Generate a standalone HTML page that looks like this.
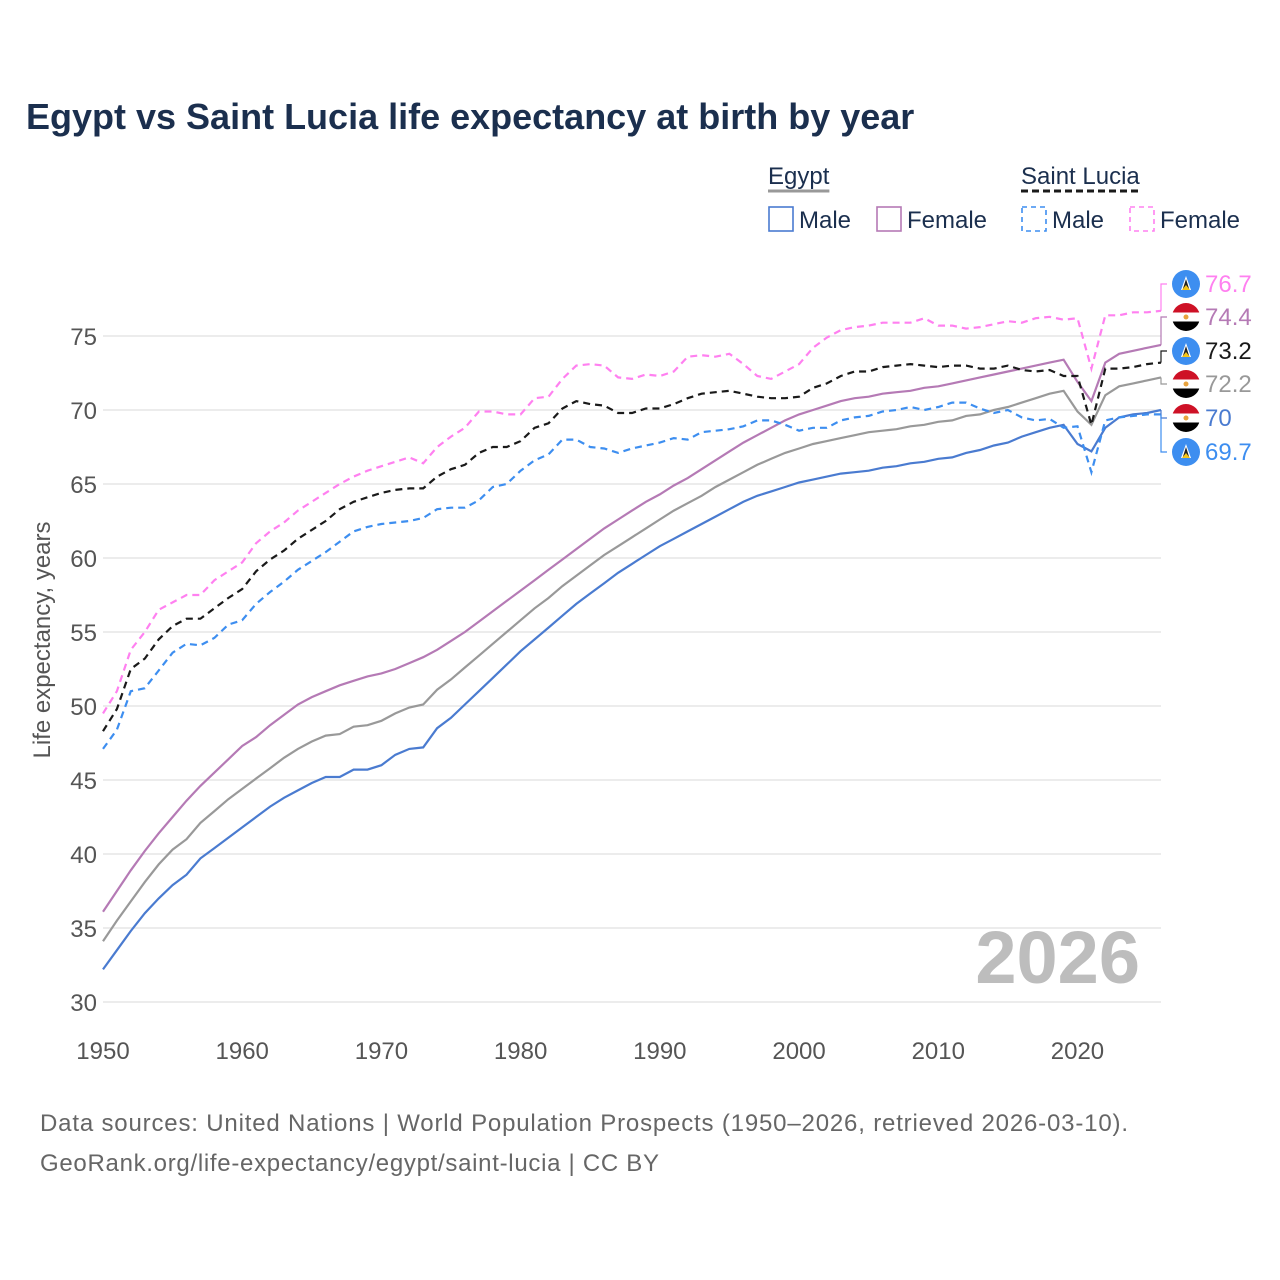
<!DOCTYPE html>
<html><head><meta charset="utf-8">
<style>
body{margin:0;background:#fff;font-family:"Liberation Sans",sans-serif;}
#wrap{position:relative;width:1280px;height:1280px;overflow:hidden;}
</style></head>
<body>
<div id="wrap">
<svg id="chart" width="1280" height="1280" style="font-family:'Liberation Sans',sans-serif"></svg>
</div>
<script>
const years=[];for(let y=1950;y<=2026;y++)years.push(y);
const egyptMale=[32.2,33.5,34.8,36.0,37.0,37.9,38.6,39.7,40.4,41.1,
41.8,42.5,43.2,43.8,44.3,44.8,45.2,45.2,45.7,45.7,
46.0,46.7,47.1,47.2,48.5,49.2,50.1,51.0,51.9,52.8,
53.7,54.5,55.3,56.1,56.9,57.6,58.3,59.0,59.6,60.2,
60.8,61.3,61.8,62.3,62.8,63.3,63.8,64.2,64.5,64.8,
65.1,65.3,65.5,65.7,65.8,65.9,66.1,66.2,66.4,66.5,
66.7,66.8,67.1,67.3,67.6,67.8,68.2,68.5,68.8,69.0,
67.7,67.2,68.8,69.5,69.7,69.8,70.0];
const egyptFemale=[36.1,37.5,38.9,40.2,41.4,42.5,43.6,44.6,45.5,46.4,
47.3,47.9,48.7,49.4,50.1,50.6,51.0,51.4,51.7,52.0,
52.2,52.5,52.9,53.3,53.8,54.4,55.0,55.7,56.4,57.1,
57.8,58.5,59.2,59.9,60.6,61.3,62.0,62.6,63.2,63.8,
64.3,64.9,65.4,66.0,66.6,67.2,67.8,68.3,68.8,69.3,
69.7,70.0,70.3,70.6,70.8,70.9,71.1,71.2,71.3,71.5,
71.6,71.8,72.0,72.2,72.4,72.6,72.8,73.0,73.2,73.4,
71.9,70.6,73.2,73.8,74.0,74.2,74.4];
const egyptTotal=[34.1,35.5,36.8,38.1,39.3,40.3,41.0,42.1,42.9,43.7,
44.4,45.1,45.8,46.5,47.1,47.6,48.0,48.1,48.6,48.7,
49.0,49.5,49.9,50.1,51.1,51.8,52.6,53.4,54.2,55.0,
55.8,56.6,57.3,58.1,58.8,59.5,60.2,60.8,61.4,62.0,
62.6,63.2,63.7,64.2,64.8,65.3,65.8,66.3,66.7,67.1,
67.4,67.7,67.9,68.1,68.3,68.5,68.6,68.7,68.9,69.0,
69.2,69.3,69.6,69.7,70.0,70.2,70.5,70.8,71.1,71.3,
69.9,69.0,71.0,71.6,71.8,72.0,72.2];
const luciaMale=[47.1,48.4,51.0,51.2,52.4,53.6,54.2,54.1,54.6,55.5,
55.8,56.9,57.7,58.4,59.2,59.8,60.4,61.1,61.8,62.1,
62.3,62.4,62.5,62.7,63.3,63.4,63.4,63.9,64.8,65.0,
65.9,66.6,67.0,68.0,68.0,67.5,67.4,67.1,67.4,67.6,
67.8,68.1,68.0,68.5,68.6,68.7,68.9,69.3,69.3,69.0,
68.6,68.8,68.8,69.3,69.5,69.6,69.9,70.0,70.2,70.0,
70.2,70.5,70.5,70.1,69.8,70.0,69.5,69.3,69.4,68.8,
68.9,65.8,69.3,69.5,69.6,69.7,69.7];
const luciaFemale=[49.5,51.0,53.8,55.0,56.5,57.0,57.5,57.5,58.5,59.1,
59.7,61.0,61.8,62.4,63.2,63.8,64.4,65.0,65.5,65.9,
66.2,66.5,66.8,66.4,67.5,68.2,68.8,69.9,69.9,69.7,
69.7,70.8,70.9,72.1,73.0,73.1,73.0,72.2,72.1,72.4,
72.3,72.6,73.6,73.7,73.6,73.8,73.1,72.3,72.1,72.6,
73.1,74.2,74.9,75.4,75.6,75.7,75.9,75.9,75.9,76.2,
75.7,75.7,75.5,75.6,75.8,76.0,75.9,76.2,76.3,76.1,
76.2,72.8,76.4,76.4,76.6,76.6,76.7];
const luciaTotal=[48.3,49.8,52.5,53.2,54.5,55.4,55.9,55.9,56.6,57.3,
57.9,59.1,59.9,60.5,61.3,61.9,62.5,63.3,63.8,64.1,
64.4,64.6,64.7,64.7,65.5,66.0,66.3,67.1,67.5,67.5,
67.9,68.8,69.1,70.1,70.6,70.4,70.3,69.8,69.8,70.1,
70.1,70.4,70.8,71.1,71.2,71.3,71.1,70.9,70.8,70.8,
70.9,71.5,71.8,72.3,72.6,72.6,72.9,73.0,73.1,73.0,
72.9,73.0,73.0,72.8,72.8,73.0,72.7,72.6,72.7,72.3,
72.3,69.0,72.8,72.8,72.9,73.1,73.2];
const yTicks=[30,35,40,45,50,55,60,65,70,75];
const xTicks=[1950,1960,1970,1980,1990,2000,2010,2020];

const NS="http://www.w3.org/2000/svg";
const svg=document.getElementById('chart');
const X0=103,X1=1161;
function xs(y){return X0+(y-1950)*(X1-X0)/76;}
function ys(v){return 1002-(v-30)*14.8;}
function mk(tag,attrs,parent){const e=document.createElementNS(NS,tag);for(const k in attrs)e.setAttribute(k,attrs[k]);(parent||svg).appendChild(e);return e;}

let t=mk('text',{x:26,y:129,'font-size':36,'font-weight':'bold',fill:'#1b2f4e'});
t.textContent='Egypt vs Saint Lucia life expectancy at birth by year';



yTicks.forEach(v=>{
 const l=mk('line',{x1:X0,x2:X1,y1:ys(v),y2:ys(v),stroke:'#e6e6e6','stroke-width':1.5});
 
 
 const tx=mk('text',{x:97,y:ys(v)+9,'font-size':24,'text-anchor':'end',fill:'#555'});
 tx.textContent=v;
 
 
});
xTicks.forEach(v=>{
 const tx=mk('text',{x:xs(v),y:1059,'font-size':24,'text-anchor':'middle',fill:'#555'});
 tx.textContent=v;
 
 
});
t=mk('text',{x:0,y:0,'font-size':24,fill:'#555','text-anchor':'middle',transform:'translate(50,640) rotate(-90)'});
t.textContent='Life expectancy, years';



t=mk('text',{x:1140,y:983,'font-size':74,'font-weight':'bold',fill:'#bdbdbd','text-anchor':'end'});
t.textContent='2026';



const series=[
 {d:egyptMale,c:'#4a7bd0',dash:null,n:'egypt-male-line'},
 {d:egyptTotal,c:'#999999',dash:null,n:'egypt-total-line'},
 {d:egyptFemale,c:'#b57ab5',dash:null,n:'egypt-female-line'},
 {d:luciaMale,c:'#3d8ef0',dash:'7,5',n:'saint-lucia-male-line'},
 {d:luciaTotal,c:'#1a1a1a',dash:'7,5',n:'saint-lucia-total-line'},
 {d:luciaFemale,c:'#ff80f0',dash:'7,5',n:'saint-lucia-female-line'}
];
series.forEach(s=>{
 const pts=s.d.map((v,i)=>xs(years[i]).toFixed(1)+','+ys(v).toFixed(1)).join(' ');
 const a={points:pts,fill:'none',stroke:s.c,'stroke-width':2.2};
 if(s.dash)a['stroke-dasharray']=s.dash;
 const p=mk('polyline',a);
 
 
});

const ends=[
 {d:luciaFemale,c:'#ff80f0',flag:'lc',ly:284},
 {d:egyptFemale,c:'#b57ab5',flag:'eg',ly:317},
 {d:luciaTotal,c:'#1a1a1a',flag:'lc',ly:351},
 {d:egyptTotal,c:'#999999',flag:'eg',ly:384},
 {d:egyptMale,c:'#4a7bd0',flag:'eg',ly:418},
 {d:luciaMale,c:'#3d8ef0',flag:'lc',ly:452}
];
ends.forEach(e=>{
 const v=e.d[e.d.length-1];const yy=ys(v);
 const c=mk('polyline',{points:`${X1},${yy} ${X1},${e.ly} ${X1+6},${e.ly}`,fill:'none',stroke:e.c,'stroke-width':1.2});
 
 
 const g=mk('g',{});
 
 
 const cx=1186,cy=e.ly;
 if(e.flag==='lc'){
  mk('circle',{cx,cy,r:14,fill:'#3d8ef0'},g);
  mk('polygon',{points:`${cx},${cy-8} ${cx+5},${cy+6} ${cx-5},${cy+6}`,fill:'#fff'},g);
  mk('polygon',{points:`${cx},${cy-5} ${cx+3.5},${cy+6} ${cx-3.5},${cy+6}`,fill:'#222'},g);
  mk('polygon',{points:`${cx},${cy+1} ${cx+4},${cy+6} ${cx-4},${cy+6}`,fill:'#f5c518'},g);
 }else{
  const id='clip'+e.ly;
  const cp=mk('clipPath',{id},g);mk('circle',{cx,cy,r:14},cp);
  const gg=mk('g',{'clip-path':`url(#${id})`},g);
  mk('rect',{x:cx-14,y:cy-14,width:28,height:9.5,fill:'#ce1126'},gg);
  mk('rect',{x:cx-14,y:cy-4.5,width:28,height:9,fill:'#fff'},gg);
  mk('rect',{x:cx-14,y:cy+4.5,width:28,height:9.5,fill:'#000'},gg);
  mk('circle',{cx,cy,r:2.5,fill:'#e8a33d'},gg);
 }
 const tx=mk('text',{x:1205,y:e.ly+8,'font-size':24,fill:e.c});
 tx.textContent=String(v);
 
 
});

function legendTitle(x,txt,dash,name){
 const tx=mk('text',{x,y:184,'font-size':24,fill:'#1b2f4e'});tx.textContent=txt;
 
 
 const w=tx.getComputedTextLength();
 const a={x1:x,x2:x+w,y1:191,y2:191,stroke:dash?'#1a1a1a':'#999','stroke-width':3};
 if(dash)a['stroke-dasharray']='7,4';
 const l=mk('line',a);
 
 
}
legendTitle(768,'Egypt',false,'legend-egypt-title');
legendTitle(1021,'Saint Lucia',true,'legend-saint-lucia-title');
const leg=[
 {x:768,c:'#4a7bd0',dash:false,t:'Male',n:'legend-egypt-male'},
 {x:876,c:'#b57ab5',dash:false,t:'Female',n:'legend-egypt-female'},
 {x:1021,c:'#3d8ef0',dash:true,t:'Male',n:'legend-saint-lucia-male'},
 {x:1129,c:'#ff80f0',dash:true,t:'Female',n:'legend-saint-lucia-female'}
];
leg.forEach(l=>{
 const g=mk('g',{});
 
 
 const a={x:l.x+1,y:207,width:24,height:24,fill:'none',stroke:l.c,'stroke-width':1.6};
 if(l.dash)a['stroke-dasharray']='5,4';
 mk('rect',a,g);
 const tx=mk('text',{x:l.x+31,y:228,'font-size':24,fill:'#1b2f4e'},g);tx.textContent=l.t;
});

t=mk('text',{x:40,y:1131,'font-size':24,fill:'#666',textLength:1088,lengthAdjust:'spacing'});
t.textContent='Data sources: United Nations | World Population Prospects (1950–2026, retrieved 2026-03-10).';


t=mk('text',{x:40,y:1171,'font-size':24,fill:'#666',textLength:619,lengthAdjust:'spacing'});
t.textContent='GeoRank.org/life-expectancy/egypt/saint-lucia | CC BY';


</script>
</body></html>
